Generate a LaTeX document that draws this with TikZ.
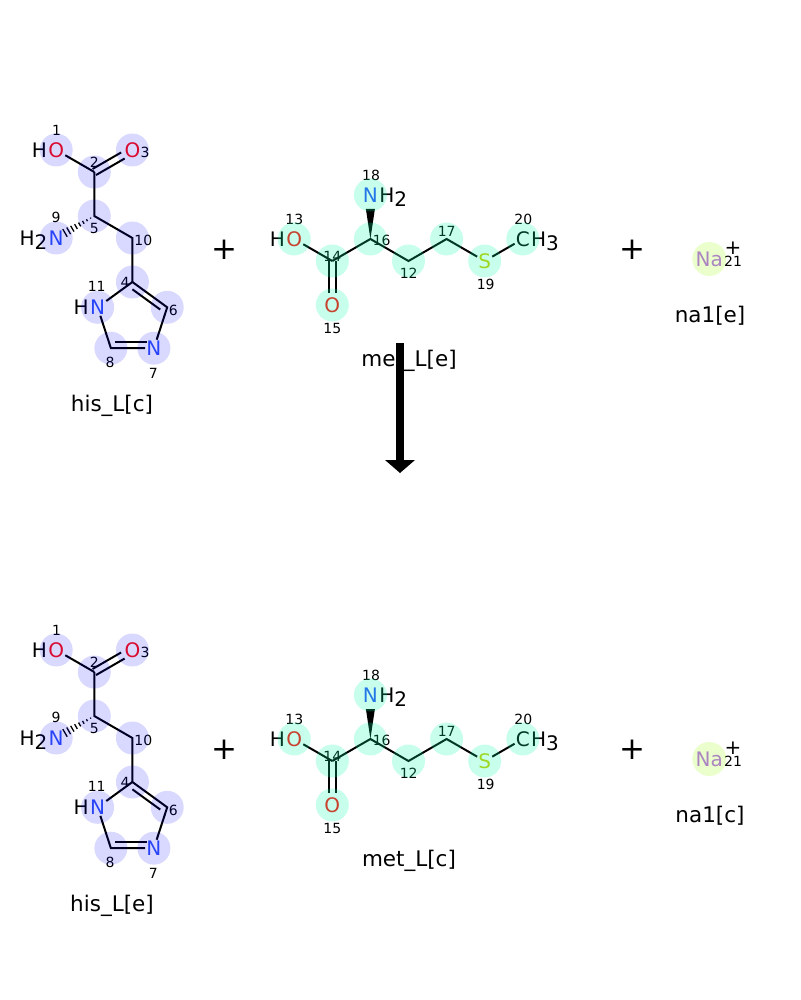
\documentclass[tikz,border=0pt]{standalone}
\usepackage{fontspec}
\setmainfont{DejaVu Sans}
\usetikzlibrary{calc,positioning}

\definecolor{ocol}{RGB}{255,13,13}
\definecolor{ncol}{RGB}{48,80,248}
\definecolor{scol}{RGB}{204,204,0}
\definecolor{nacol}{RGB}{171,92,242}
\definecolor{hisglow}{RGB}{0,0,255}
\definecolor{metglow}{RGB}{0,255,170}
\definecolor{naglow}{RGB}{173,255,47}

\newcommand{\lowsub}[1]{\raisebox{-4.5pt}{#1}}

\tikzset{
  bond/.style={line width=2pt},
  atom/.style={inner sep=1pt, font=\fontsize{20}{24}\selectfont},
  hatom/.style={inner sep=0pt, font=\fontsize{20}{24}\selectfont},
  idx/.style={inner sep=0pt, font=\fontsize{14}{16}\selectfont},
  molname/.style={inner sep=0pt, font=\fontsize{21.5}{26}\selectfont},
  plussign/.style={inner sep=0pt, font=\fontsize{31}{36}\selectfont},
  hisdot/.style={fill=hisglow, fill opacity=0.15},
  metdot/.style={fill=metglow, fill opacity=0.22},
  nadot/.style={fill=naglow, fill opacity=0.25}
}

\begin{document}
\begin{tikzpicture}[x=1pt,y=-1pt]

   \useasboundingbox (0,0) rectangle (800,1000);

   \foreach \r/\dy/\hisnm/\metnm/\nanm in {a/0/his\_L[c]/met\_L[e]/na1[e], b/500/his\_L[e]/met\_L[c]/na1[c]} {
   \begin{scope}[shift={(0,\dy)}]

      % his_L
      \coordinate (c2\r) at (94.3,172);
      \coordinate (c5\r) at (94.3,216);
      \coordinate (c10\r) at (132.4,238);
      \coordinate (c4\r) at (132.4,282);
      \coordinate (c6\r) at (167.2,307.3);
      \coordinate (c8\r) at (110.9,348.2);
      \coordinate (rc\r) at (132.4,318.6);

      \node [atom, text=ocol] (o1\r) at (56.2,150) {O};
      \node [atom, text=ocol] (o3\r) at (132.4,150) {O};
      \node [atom, text=ncol] (n9\r) at (56.2,238) {N};
      \node [atom, text=ncol] (n11\r) at (97.6,307.3) {N};
      \node [atom, text=ncol] (n7\r) at (153.9,348.2) {N};
      \node [hatom, anchor=base east] (o1h\r) at (o1\r.base west) {H};
      \node [hatom, anchor=base east] (n9h\r) at (n9\r.base west) {H\lowsub{2}};
      \node [hatom, anchor=base east] (n11h\r) at (n11\r.base west) {H};

      \draw [bond] (c2\r) -- (o1\r);
      \draw [bond, shorten >=11pt] ($(c2\r)!3.5pt!90:(o3\r)$) -- ($(o3\r)!3.5pt!-90:(c2\r)$);
      \draw [bond, shorten >=11pt] ($(c2\r)!3.5pt!-90:(o3\r)$) -- ($(o3\r)!3.5pt!90:(c2\r)$);
      \draw [bond] (c2\r) -- (c5\r) -- (c10\r) -- (c4\r);
      \foreach \t [evaluate=\t as \f using \t/10.4, evaluate=\t as \w using \t*0.55] in {1,...,8} {
         \coordinate (hs\r) at ($(c5\r)!\f!(n9\r)$);
         \draw [line width=1.3pt] ($(hs\r)!\w pt!90:(n9\r)$) -- ($(hs\r)!\w pt!-90:(n9\r)$);
      }
      \draw [bond] (c4\r) -- (n11\r);
      \draw [bond] (c4\r) -- (c6\r) -- (n7\r);
      \draw [bond] (n7\r) -- (c8\r) -- (n11\r);
      \draw [bond] ($(c4\r)!0.2!(rc\r)$) -- ($(c6\r)!0.2!(rc\r)$);
      \draw [bond, shorten >=3pt] ($(c8\r)!0.2!(rc\r)$) -- ($(n7\r)!0.2!(rc\r)$);

      \foreach \k/\p in {1/{(56.7,130)}, 2/{(94.3,162)}, 3/{(145,152.3)}, 9/{(56,217)},
            5/{(94.3,228)}, 10/{(143.3,240)}, 4/{(125,282.3)}, 11/{(96.7,286.7)},
            6/{(173.3,310)}, 8/{(110,362.3)}, 7/{(153.3,373)}}
         \node [idx] (idx\k\r) at \p {\k};

      \node [molname] (hisname\r) at (112,406) {\hisnm};

      % met_L
      \coordinate (c14\r) at (332.3,261);
      \coordinate (c16\r) at (370.4,239);
      \coordinate (c12\r) at (408.5,261);
      \coordinate (c17\r) at (446.6,239);

      \node [atom, text=ocol] (o13\r) at (294.2,239) {O};
      \node [atom, text=ocol] (o15\r) at (332.3,305) {O};
      \node [atom, text=ncol] (n18\r) at (370.4,195) {N};
      \node [atom, text=scol] (s19\r) at (484.7,261) {S};
      \node [atom] (c20\r) at (522.8,239) {C};
      \node [hatom, anchor=base east] (o13h\r) at (o13\r.base west) {H};
      \node [hatom, anchor=base west] (n18h\r) at (n18\r.base east) {H\lowsub{2}};
      \node [hatom, anchor=base west] (c20h\r) at (c20\r.base east) {H\lowsub{3}};

      \draw [bond] (c14\r) -- (o13\r);
      \draw [bond, shorten >=12pt] ($(c14\r)!3.5pt!90:(o15\r)$) -- ($(o15\r)!3.5pt!-90:(c14\r)$);
      \draw [bond, shorten >=12pt] ($(c14\r)!3.5pt!-90:(o15\r)$) -- ($(o15\r)!3.5pt!90:(c14\r)$);
      \draw [bond] (c14\r) -- (c16\r) -- (c12\r) -- (c17\r) -- (s19\r);
      \draw [bond] (s19\r) -- (c20\r);
      \fill (c16\r) -- ($(n18\r)+(-4.5,14)$) -- ($(n18\r)+(4.5,14)$) -- cycle;

      \foreach \k/\p in {13/{(294.3,219)}, 14/{(332.3,256)}, 15/{(332.3,328.3)},
            16/{(381.7,240.7)}, 18/{(371,175)}, 12/{(408.7,273.3)},
            17/{(446.7,231)}, 19/{(485.7,284)}, 20/{(523.3,219)}}
         \node [idx] (idx\k\r) at \p {\k};

      \node [molname] (metname\r) at (409,361) {\metnm};

      % na1
      \node [atom, text=nacol] (na21\r) at (709.3,259) {Na};
      \node [hatom] (charge\r) at (733,248.5) {+};
      \node [idx] (idx21\r) at (733,261) {21};
      \node [molname] (naname\r) at (710,316) {\nanm};

      \node [plussign] (plusa\r) at (224.5,250) {+};
      \node [plussign] (plusb\r) at (632,250) {+};

      % highlights
      \foreach \a in {o1,c2,o3,n9,c5,c10,c4,n11,c6,c8,n7}
         \fill [hisdot] (\a\r) circle [radius=16.5];
      \foreach \a in {o13,c14,o15,c16,n18,c12,c17,s19,c20}
         \fill [metdot] (\a\r) circle [radius=16.5];
      \fill [nadot] (na21\r) circle [radius=17];

   \end{scope}
   }

   % reaction arrow
   \coordinate (arrtop) at (400,343);
   \coordinate (arrbase) at (400,460);
   \coordinate (arrtip) at (400,473);
   \draw [line width=8.7pt] (arrtop) -- (arrbase);
   \fill ($(arrbase)+(-15,0)$) -- ($(arrbase)+(15,0)$) -- (arrtip) -- cycle;

\end{tikzpicture}
\end{document}
